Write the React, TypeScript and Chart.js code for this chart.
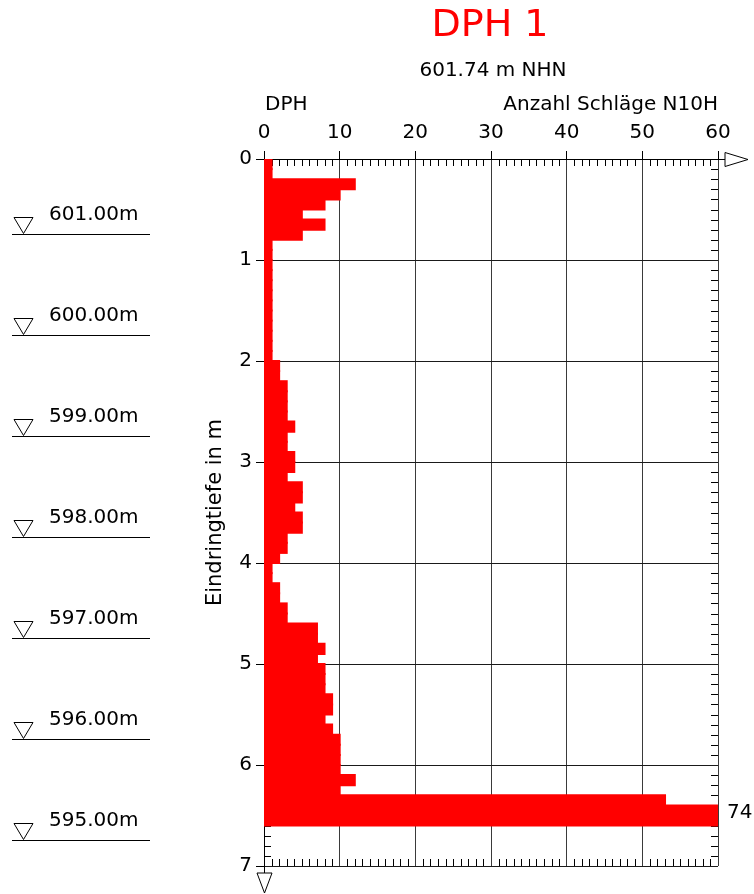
import React, { useEffect, useRef } from "react";
import { Chart, registerables } from "chart.js";

Chart.register(...registerables);

// Depth interval (m) of each blow count reading
const depthStep = 0.1;
// Blow counts N10H per 0.1 m, from 0.0 m down to 6.6 m
const blowCounts = [
  1, 1, 12, 10, 8, 5, 8, 5,
  1, 1, 1, 1, 1, 1, 1, 1, 1, 1, 1, 1,
  2, 2, 3, 3, 3, 3, 4, 3, 3, 4,
  4, 3, 5, 5, 4, 5, 5, 3, 3, 2,
  1, 1, 2, 2, 3, 3, 7, 7, 8, 7,
  8, 8, 8, 9, 9, 8, 9, 10, 10, 10,
  10, 12, 10, 53, 74, 74,
];
const xTicksMax = 60;
const xTickStep = 10;
const yTicksMax = 7;
const yTickStep = 1;
const groundLevel = 601.74;
const waterLevels = [601, 600, 599, 598, 597, 596, 595];
const titleText = "DPH 1";
const subtitleText = "601.74 m NHN";
const leftHeader = "DPH";
const rightHeader = "Anzahl Schläge N10H";
const yAxisTitle = "Eindringtiefe in m";

const FONT = "'DejaVu Sans', sans-serif";

export default function App() {
  const ref = useRef<HTMLCanvasElement>(null);

  useEffect(() => {
    const canvas = ref.current;
    if (!canvas) return;
    const points = blowCounts.map((v, i) => ({
      x: v,
      y: Math.round((i * depthStep + depthStep / 2) * 1000) / 1000,
    }));

    const decor = {
      id: "decor",
      beforeDatasetsDraw(chart: any) {
        const { ctx, chartArea: a, scales } = chart;
        const x = scales.x;
        const y = scales.y;
        ctx.save();
        ctx.strokeStyle = "#000";
        ctx.lineWidth = 1;
        ctx.beginPath();
        for (let v = 1; v < xTicksMax; v++) {
          if (v % xTickStep === 0) continue;
          const px = Math.round(x.getPixelForValue(v)) + 0.5;
          ctx.moveTo(px, a.top);
          ctx.lineTo(px, a.top + 7);
          ctx.moveTo(px, a.bottom);
          ctx.lineTo(px, a.bottom - 7);
        }
        const n = Math.round(yTicksMax / depthStep);
        for (let k = 1; k < n; k++) {
          if (k % 10 === 0) continue;
          const py = Math.round(y.getPixelForValue(k * depthStep)) + 0.5;
          ctx.moveTo(a.left, py);
          ctx.lineTo(a.left + 7, py);
          ctx.moveTo(a.right, py);
          ctx.lineTo(a.right - 7, py);
        }
        ctx.stroke();
        ctx.restore();
      },
      afterDraw(chart: any) {
        const { ctx, chartArea: a, scales } = chart;
        const y = scales.y;
        ctx.save();
        // arrows
        ctx.strokeStyle = "#000";
        ctx.lineWidth = 1;
        ctx.fillStyle = "#fff";
        const t = Math.round(a.top) + 0.5;
        ctx.beginPath();
        ctx.moveTo(a.right, t);
        ctx.lineTo(a.right + 7, t);
        ctx.stroke();
        ctx.beginPath();
        ctx.moveTo(a.right + 7, t - 7);
        ctx.lineTo(a.right + 7, t + 7);
        ctx.lineTo(a.right + 30, t);
        ctx.closePath();
        ctx.fill();
        ctx.stroke();
        const l = Math.round(a.left) + 0.5;
        ctx.beginPath();
        ctx.moveTo(l, a.bottom);
        ctx.lineTo(l, a.bottom + 7);
        ctx.stroke();
        ctx.beginPath();
        ctx.moveTo(l - 7.5, a.bottom + 7);
        ctx.lineTo(l + 7.5, a.bottom + 7);
        ctx.lineTo(l, a.bottom + 27);
        ctx.closePath();
        ctx.fill();
        ctx.stroke();

        // titles
        ctx.fillStyle = "#ff0000";
        ctx.textAlign = "center";
        ctx.textBaseline = "middle";
        ctx.font = `38px ${FONT}`;
        ctx.fillText(titleText, 490, 26);
        ctx.fillStyle = "#000";
        ctx.font = `20px ${FONT}`;
        ctx.fillText(subtitleText, 493, 71);
        ctx.textAlign = "left";
        ctx.fillText(leftHeader, a.left + 1, 105);
        ctx.textAlign = "right";
        ctx.fillText(rightHeader, a.right, 105);

        // y axis title
        ctx.save();
        ctx.translate(216, (a.top + a.bottom) / 2);
        ctx.rotate(-Math.PI / 2);
        ctx.textAlign = "center";
        ctx.textBaseline = "middle";
        ctx.font = `21px ${FONT}`;
        ctx.fillText(yAxisTitle, 0, 0);
        ctx.restore();

        // water levels
        ctx.lineWidth = 1;
        ctx.strokeStyle = "#000";
        waterLevels.forEach((lvl) => {
          const py = Math.round(y.getPixelForValue(groundLevel - lvl)) + 0.5;
          ctx.beginPath();
          ctx.moveTo(12, py);
          ctx.lineTo(150, py);
          ctx.stroke();
          ctx.beginPath();
          ctx.moveTo(14, py - 17);
          ctx.lineTo(33, py - 17);
          ctx.lineTo(23.5, py - 1);
          ctx.closePath();
          ctx.stroke();
          ctx.fillStyle = "#000";
          ctx.textAlign = "left";
          ctx.textBaseline = "alphabetic";
          ctx.font = `20px ${FONT}`;
          ctx.fillText(lvl.toFixed(2) + "m", 49, py - 15);
        });

        // overflow labels
        ctx.textAlign = "left";
        ctx.textBaseline = "middle";
        ctx.font = `20px ${FONT}`;
        let i = 0;
        while (i < blowCounts.length) {
          const v = blowCounts[i];
          if (v > xTicksMax) {
            let j = i;
            while (j + 1 < blowCounts.length && blowCounts[j + 1] === v) j++;
            const mid = ((i + j + 1) * depthStep) / 2;
            ctx.fillText(String(v), a.right + 9, y.getPixelForValue(mid) - 3);
            i = j + 1;
          } else i++;
        }
        ctx.restore();
      },
    };

    const chart = new Chart(canvas, {
      type: "bar",
      data: {
        datasets: [
          {
            data: points as any,
            backgroundColor: "#ff0000",
            borderWidth: 0,
            inflateAmount: 1,
            barPercentage: 1,
            categoryPercentage: 1,
          },
        ],
      },
      options: {
        indexAxis: "y",
        animation: false,
        responsive: false,
        layout: { padding: { top: 0, left: 0, right: 36, bottom: 28 } },
        plugins: { legend: { display: false }, tooltip: { enabled: false } },
        scales: {
          x: {
            type: "linear",
            position: "top",
            min: 0,
            max: xTicksMax,
            offset: false,
            ticks: {
              stepSize: xTickStep,
              color: "#000",
              font: { family: FONT, size: 20 },
              padding: 6,
              maxRotation: 0,
            },
            grid: { color: "#3a3a3a", lineWidth: 1, tickLength: 8, tickColor: "#000", offset: false },
            border: { display: true, color: "#000", width: 1 },
            afterFit: (s: any) => {
              s.height = 159;
            },
          },
          y: {
            type: "linear",
            reverse: true,
            min: 0,
            max: yTicksMax,
            offset: false,
            ticks: {
              stepSize: yTickStep,
              color: "#000",
              font: { family: FONT, size: 20 },
              padding: 4,
            },
            grid: { color: "#1a1a1a", lineWidth: 1, tickLength: 8, tickColor: "#000", offset: false },
            border: { display: true, color: "#000", width: 1 },
            afterFit: (s: any) => {
              s.width = 264;
            },
          },
        },
      },
      plugins: [decor],
    } as any);
    return () => chart.destroy();
  }, []);

  return (
    <div style={{ position: "absolute", left: 0, top: 0, width: 754, height: 894, background: "#fff" }}>
      <canvas ref={ref} width={754} height={894} style={{ width: 754, height: 894, display: "block" }} />
    </div>
  );
}
